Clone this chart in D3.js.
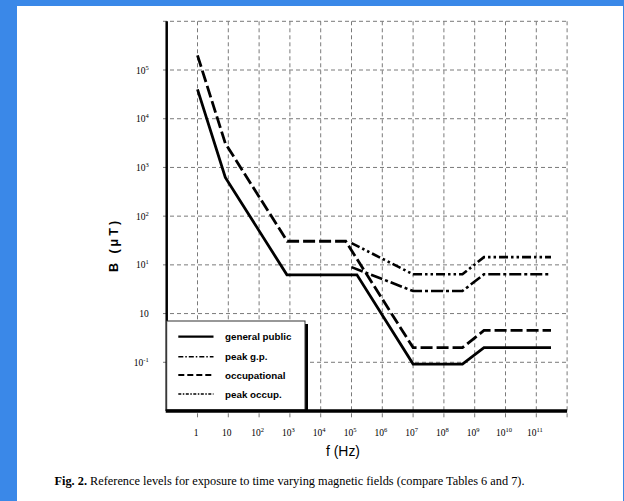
<!DOCTYPE html>
<html>
<head>
<meta charset="utf-8">
<script src="https://cdn.jsdelivr.net/npm/d3@7"></script>
<style>
  html, body { margin: 0; padding: 0; background: #3a88e8; }
  svg { display: block; }
</style>
</head>
<body>
<svg id="chart" width="624" height="501"></svg>
<script>
// ---- data ----
const xTickValues = [1, 1e1, 1e2, 1e3, 1e4, 1e5, 1e6, 1e7, 1e8, 1e9, 1e10, 1e11];
const xTickLabels = ["1", "10", "10^2", "10^3", "10^4", "10^5", "10^6", "10^7", "10^8", "10^9", "10^10", "10^11"];
const xGridValues = [1, 1e1, 1e2, 1e3, 1e4, 1e5, 1e6, 1e7, 1e8, 1e9, 1e10, 1e11, 1e12];
const yTickValues = [1e5, 1e4, 1e3, 1e2, 1e1, 1, 1e-1];
const yTickLabels = ["10^5", "10^4", "10^3", "10^2", "10^1", "10", "10^-1"];
const yGridValues = [1e6, 1e5, 1e4, 1e3, 1e2, 1e1, 1, 1e-1];

const freqGP = [1, 8, 800, 1.5e5, 1e7, 4e8, 2e9, 3e11];
const generalPublic = [4e4, 625, 6.25, 6.25, 0.092, 0.092, 0.2, 0.2];
const freqOcc = [1, 8, 820, 6.5e4, 1e7, 4e8, 2e9, 3e11];
const occupational = [2e5, 3125, 30.5, 30.5, 0.2, 0.2, 0.45, 0.45];
const freqPeak = [1e5, 1e7, 4e8, 2e9, 3e11];
const peakGP = [9, 2.9, 2.9, 6.4, 6.4];
const peakOcc = [28, 6.4, 6.4, 14.4, 14.4];

const legendLabels = ["general public", "peak g.p.", "occupational", "peak occup."];

// ---- drawing ----
const svg = d3.select("#chart");
svg.append("rect").attr("x", 17).attr("y", 6).attr("width", 606).attr("height", 495).attr("fill", "#ffffff");

const x = d3.scaleLog().domain([0.1, 1e12]).range([166.7, 567.1]);
const y = d3.scaleLog().domain([1e-2, 1e6]).range([411, 21.3]);

const gridColor = "#7a7a7a";
svg.append("g").selectAll("line").data(xGridValues).join("line")
  .attr("x1", d => x(d)).attr("x2", d => x(d))
  .attr("y1", y(1e6)).attr("y2", 418)
  .attr("stroke", gridColor).attr("stroke-width", 1).attr("stroke-dasharray", "4,3");
svg.append("g").selectAll("line").data(yGridValues).join("line")
  .attr("x1", 163).attr("x2", x(1e12))
  .attr("y1", d => y(d)).attr("y2", d => y(d))
  .attr("stroke", gridColor).attr("stroke-width", 1).attr("stroke-dasharray", "4,3");

const line = d3.line().x(d => x(d[0])).y(d => y(d[1]));
function drawSeries(fs, vs, dash, w) {
  svg.append("path")
    .datum(fs.map((f, i) => [f, vs[i]]))
    .attr("d", line)
    .attr("fill", "none")
    .attr("stroke", "#000")
    .attr("stroke-width", w)
    .attr("stroke-linejoin", "miter")
    .attr("stroke-dasharray", dash);
}
drawSeries(freqPeak, peakOcc, "9,3,2.5,3,2.5,3", 2.6);
drawSeries(freqPeak, peakGP, "12,3,3,3", 2.6);
drawSeries(freqOcc, occupational, "12,4", 2.8);
drawSeries(freqGP, generalPublic, null, 2.8);

function supText(sel, labels) {
  sel.each(function(d, i) {
    const t = d3.select(this);
    t.text(null);
    const parts = labels[i].split("^");
    t.append("tspan").text(parts[0]);
    if (parts[1]) t.append("tspan").attr("dy", "-4").attr("font-size", "6.5px").text(parts[1]);
  });
}
const gx = svg.append("g").attr("transform", `translate(0,${y(1e-2)})`)
  .call(d3.axisBottom(x).tickValues(xTickValues).tickSize(0));
gx.select(".domain").remove();
gx.selectAll(".tick text")
  .attr("y", 25).attr("dy", null).attr("dx", -2)
  .attr("font-family", "'Liberation Serif', 'DejaVu Serif', serif")
  .attr("font-size", "9.5px").attr("fill", "#000")
  .call(supText, xTickLabels);

const gy = svg.append("g").attr("transform", `translate(${x(0.1)},0)`)
  .call(d3.axisLeft(y).tickValues(yTickValues).tickSize(0));
gy.select(".domain").remove();
gy.selectAll(".tick text")
  .attr("x", -18).attr("dy", null).attr("y", 3)
  .attr("font-family", "'Liberation Serif', 'DejaVu Serif', serif")
  .attr("font-size", "9.5px").attr("fill", "#000")
  .call(supText, yTickLabels);

svg.append("line").attr("x1", x(0.1)).attr("x2", x(0.1)).attr("y1", y(1e6)).attr("y2", y(1e-2))
  .attr("stroke", "#000").attr("stroke-width", 2.5);

const lg = svg.append("g");
lg.append("rect").attr("x", 169.7).attr("y", 324).attr("width", 138.3).attr("height", 86).attr("fill", "#000");
lg.append("rect").attr("x", 166.7).attr("y", 321).attr("width", 138.3).attr("height", 89)
  .attr("fill", "#fff").attr("stroke", "#333").attr("stroke-width", 1);
const legendDash = [null, "5,2,1.5,2", "6,3", "3,1.5,1.5,1.5"];
const legendWidth = [2.2, 1.4, 2.2, 1.4];
const legendY = [336.7, 356.7, 375, 394];
legendLabels.forEach((lab, i) => {
  lg.append("line").attr("x1", 178.3).attr("x2", 213.5).attr("y1", legendY[i]).attr("y2", legendY[i])
    .attr("stroke", "#000").attr("stroke-width", legendWidth[i]).attr("stroke-dasharray", legendDash[i]);
  lg.append("text").attr("x", 225).attr("y", legendY[i] + 3.5)
    .attr("font-family", "'Liberation Sans', Arial, sans-serif").attr("font-weight", "bold")
    .attr("font-size", "9.8px").attr("fill", "#000").text(lab);
});

svg.append("line").attr("x1", x(0.1) - 1).attr("x2", x(1e12)).attr("y1", y(1e-2)).attr("y2", y(1e-2))
  .attr("stroke", "#000").attr("stroke-width", 3.5);

svg.append("text").attr("x", 343).attr("y", 456).attr("text-anchor", "middle")
  .attr("font-family", "'Liberation Sans', Arial, sans-serif").attr("font-size", "15.5px")
  .attr("textLength", 34).attr("lengthAdjust", "spacingAndGlyphs").attr("fill", "#000")
  .text("f (Hz)");
svg.append("text").attr("transform", "translate(117.5,245) rotate(-90)").attr("text-anchor", "middle")
  .attr("font-family", "'Liberation Sans', Arial, sans-serif").attr("font-weight", "bold")
  .attr("font-size", "12.5px").attr("letter-spacing", "3px").attr("fill", "#000")
  .text("B (μT)");

const cap = svg.append("text").attr("x", 54.5).attr("y", 485)
  .attr("font-family", "'Liberation Serif', 'Times New Roman', serif").attr("font-size", "13px")
  .attr("textLength", 470).attr("lengthAdjust", "spacingAndGlyphs").attr("fill", "#000");
cap.append("tspan").attr("font-weight", "bold").text("Fig. 2.");
cap.append("tspan").text(" Reference levels for exposure to time varying magnetic fields (compare Tables 6 and 7).");
</script>
</body>
</html>
